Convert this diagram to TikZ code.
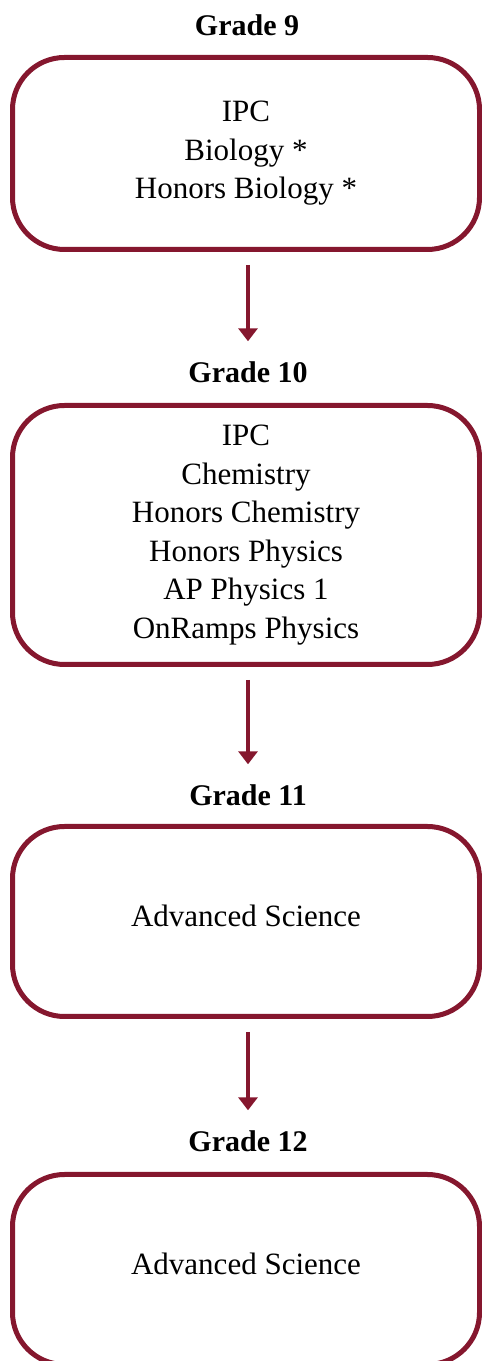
\documentclass[tikz,border=0pt]{standalone}
\usepackage{fontspec}
\setmainfont{Liberation Serif}
\usetikzlibrary{arrows.meta, positioning}
\definecolor{maroon}{RGB}{133, 23, 46}

\begin{document}
\begin{tikzpicture}[
  x=1pt, y=1pt,
  >={Triangle[width=19pt, length=13pt]},
  gradebox/.style={
    rectangle, draw=maroon, fill=white,
    line width=5pt, rounded corners=52pt,
    minimum width=467pt,
    text centered, align=center,
    font=\fontsize{31}{38.5}\selectfont
  },
  heading/.style={
    inner sep=0pt, text height=21pt, text depth=0pt,
    font=\fontsize{30}{36}\selectfont\bfseries
  },
  flow/.style={->, draw=maroon, line width=4.5pt, shorten <=13pt, shorten >=20pt}
]
  \useasboundingbox (0,0) rectangle (482,1361);

  \node[heading] (g9)  at (247,1335.5) {Grade 9};
  \node[gradebox, minimum height=192pt] (b9) at (246,1207.5)
    {IPC\\Biology *\\Honors Biology *};

  \node[heading] (g10) at (248,989) {Grade 10};
  \node[gradebox, minimum height=259pt] (b10) at (246,826)
    {IPC\\Chemistry\\Honors Chemistry\\Honors Physics\\AP Physics 1\\OnRamps Physics};

  \node[heading] (g11) at (248,566) {Grade 11};
  \node[gradebox, minimum height=190pt, text depth=11pt] (b11) at (246,439.5)
    {Advanced Science};

  \node[heading] (g12) at (248,220) {Grade 12};
  \node[gradebox, minimum height=190pt, text depth=11pt] (b12) at (246,91.5)
    {Advanced Science};

  \draw[flow] (b9.south -| g10.north)  -- (g10.north);
  \draw[flow] (b10.south -| g11.north) -- (g11.north);
  \draw[flow] (b11.south -| g12.north) -- (g12.north);
\end{tikzpicture}
\end{document}
